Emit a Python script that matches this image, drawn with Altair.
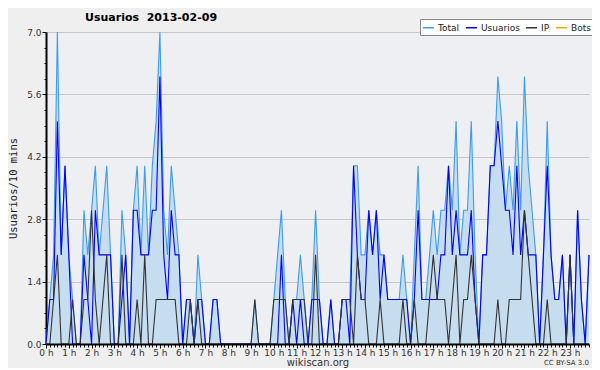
import altair as alt
import pandas as pd

# Values per 10-minute slot, one row of six per hour (0 h .. 23 h)
total = [
    0, 1, 2, 7, 2, 4,   2, 1, 0, 0, 3, 2,   3, 4, 2, 3, 4, 2,   0, 0, 3, 2, 0, 3,
    4, 2, 4, 2, 4, 5,   7, 3, 2, 4, 3, 2,   0, 1, 1, 0, 2, 1,   0, 0, 1, 1, 0, 0,
    0, 0, 0, 0, 0, 0,   0, 1, 0, 0, 0, 0,   1, 2, 3, 1, 0, 1,   1, 2, 1, 0, 1, 3,
    1, 0, 0, 1, 0, 0,   1, 1, 1, 4, 4, 2,   2, 3, 2, 3, 2, 2,   1, 1, 1, 1, 2, 1,
    0, 2, 4, 1, 1, 2,   3, 2, 3, 3, 4, 3,   5, 2, 3, 3, 5, 2,   0, 2, 2, 4, 4, 6,
    5, 3, 4, 3, 5, 3,   6, 4, 3, 2, 0, 2,   5, 2, 1, 1, 2, 0,   2, 0, 3, 1, 0, 2,
]
usuarios = [
    0, 1, 1, 5, 2, 4,   2, 0, 0, 0, 2, 1,   0, 3, 2, 2, 2, 2,   0, 0, 1, 2, 0, 3,
    3, 2, 2, 2, 3, 3,   6, 2, 1, 3, 2, 2,   0, 1, 1, 0, 1, 1,   0, 0, 1, 1, 0, 0,
    0, 0, 0, 0, 0, 0,   0, 0, 0, 0, 0, 0,   0, 0, 2, 0, 0, 1,   0, 1, 0, 0, 1, 1,
    1, 0, 0, 1, 0, 0,   1, 1, 0, 4, 2, 1,   1, 3, 2, 3, 1, 2,   1, 1, 1, 1, 1, 1,
    0, 1, 3, 1, 1, 1,   1, 1, 2, 2, 4, 2,   3, 2, 2, 2, 3, 1,   0, 2, 2, 4, 4, 5,
    4, 3, 3, 2, 4, 2,   3, 2, 2, 2, 0, 2,   4, 2, 1, 1, 2, 0,   2, 0, 3, 1, 0, 2,
]
ip = [
    0, 0, 1, 2, 0, 0,   0, 1, 0, 0, 1, 1,   3, 1, 0, 1, 2, 0,   0, 0, 2, 0, 0, 0,
    1, 0, 2, 0, 0, 1,   1, 1, 1, 1, 1, 0,   0, 0, 1, 0, 1, 0,   0, 0, 0, 0, 0, 0,
    0, 0, 0, 0, 0, 0,   0, 1, 0, 0, 0, 0,   1, 1, 1, 1, 0, 1,   1, 1, 1, 0, 0, 2,
    0, 0, 0, 0, 0, 0,   1, 1, 1, 0, 2, 1,   1, 0, 0, 0, 1, 0,   0, 0, 0, 0, 1, 0,
    0, 1, 0, 0, 0, 1,   2, 1, 1, 1, 0, 1,   2, 0, 1, 1, 2, 1,   0, 0, 0, 0, 0, 1,
    0, 0, 1, 1, 1, 1,   3, 2, 1, 0, 0, 0,   1, 0, 0, 0, 0, 0,   2, 0, 0, 0, 0, 0,
]
series_names = ["Total", "Usuarios", "IP", "Bots"]
series_colors = ["#3c9cf0", "#0000ff", "#333333", "#ffa500"]
title_text = "Usuarios\u00a0 2013-02-09"
y_title = "Usuarios/10 mins"
x_title = "wikiscan.org"
license_text = "CC BY-SA 3.0"

slots = list(range(len(total)))
df = pd.DataFrame({"t": slots, "Total": total, "Usuarios": usuarios, "IP": ip})
long = df.melt(id_vars="t", var_name="serie", value_name="v")

x_scale = alt.Scale(domain=[0, 143], nice=False, zero=False)
y_scale = alt.Scale(domain=[0, 7], nice=False)

major_x = "datum.value % 6 == 0"
x_axis = alt.Axis(
    values=slots,
    labelExpr="datum.value % 6 == 0 ? (datum.value / 6) + ' h' : ''",
    tickSize={"condition": {"test": major_x, "value": 4}, "value": 3},
    labelOverlap=False,
    labelFlush=False,
    labelBound=False,
    grid=False,
    title=x_title,
    titleFont="DejaVu Sans",
    titleFontSize=10,
    titleFontWeight="normal",
    titleColor="#333333",
    titleY=18,
    titleBaseline="middle",
    labelFont="DejaVu Sans",
    labelFontSize=9,
    labelColor="#333333",
    labelPadding=0,
    domainColor="black",
    domainWidth=2,
    tickColor="black",
    zindex=1,
)

y_vals = [round(k * 0.35, 2) for k in range(21)]
major_y = "round(datum.value * 100) % 140 == 0"
y_axis = alt.Axis(
    values=y_vals,
    labelExpr="round(datum.value * 100) % 140 == 0 ? format(datum.value, '.1f') : ''",
    tickSize={"condition": {"test": major_y, "value": 4}, "value": 2},
    gridOpacity={"condition": {"test": major_y + " && datum.value > 0", "value": 1}, "value": 0},
    gridColor="#c8c8c8",
    labelOverlap=False,
    title=y_title,
    titleFont="DejaVu Sans Mono",
    titleFontSize=10.5,
    titleFontWeight="normal",
    titleColor="#222222",
    titleAngle=270,
    titleX=-33,
    titleBaseline="middle",
    labelFont="DejaVu Sans",
    labelFontSize=9,
    labelColor="#333333",
    labelPadding=1,
    domainColor="black",
    domainWidth=2,
    tickColor="black",
)

color = alt.Color(
    "serie:N",
    scale=alt.Scale(domain=series_names, range=series_colors),
    legend=alt.Legend(
        title=None,
        orient="none",
        legendX=374,
        legendY=-13,
        direction="horizontal",
        symbolType="stroke",
        symbolSize=120,
        symbolStrokeWidth=1.5,
        labelFont="DejaVu Sans",
        labelFontSize=9,
        labelColor="#222222",
        fillColor="white",
        strokeColor="#8a8a8a",
        padding=2,
        columnPadding=3,
        labelOffset=3,
    ),
)

X = alt.X("t:Q", scale=x_scale, axis=x_axis)

area = alt.Chart(df).mark_area(color="#c6dcef", opacity=1).encode(
    x=X,
    y=alt.Y("Total:Q", scale=y_scale, axis=y_axis),
)

def line_layer(name):
    return alt.Chart(long).transform_filter(alt.datum.serie == name).mark_line(strokeWidth=1.1).encode(
        x=X,
        y=alt.Y("v:Q", scale=y_scale, axis=y_axis),
        color=color,
    )

lic = alt.Chart(pd.DataFrame({"k": [0]})).mark_text(
    text=license_text, fontSize=7, font="DejaVu Sans", color="#333333", align="right", baseline="middle"
).encode(x=alt.value(543), y=alt.value(331))

ttl = alt.Chart(pd.DataFrame({"k": [0]})).mark_text(
    text=title_text, fontSize=11, font="DejaVu Sans", fontWeight="bold", color="black",
    align="left", baseline="middle"
).encode(x=alt.value(39), y=alt.value(-14))

chart = alt.layer(
    area, line_layer("Total"), line_layer("Usuarios"), line_layer("IP"), lic, ttl
).properties(
    width=543,
    height=312,
    autosize=alt.AutoSizeParams(type="none"),
    padding={"left": 38, "top": 24, "right": 3, "bottom": 24},
).configure(background="#efefef").configure_view(fill="#edeff2", stroke=None)

chart.save("out.html", embed_options={"renderer": "svg", "actions": False})
